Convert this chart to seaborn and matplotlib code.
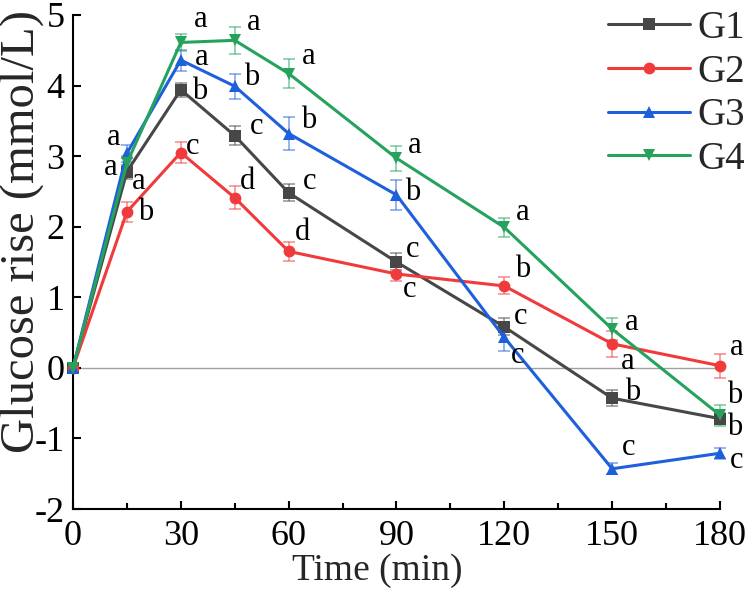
import numpy as np
import pandas as pd
import seaborn as sns
import matplotlib
matplotlib.use("Agg")
import matplotlib.pyplot as plt
from matplotlib.ticker import MultipleLocator

# ---- data ----
time = [0, 15, 30, 45, 60, 90, 120, 150, 180]
groups = ["G1", "G2", "G3", "G4"]
g1 = [0, 2.78, 3.94, 3.29, 2.48, 1.50, 0.58, -0.43, -0.72]
g2 = [0, 2.21, 3.05, 2.41, 1.65, 1.33, 1.16, 0.34, 0.03]
g3 = [0, 3.04, 4.36, 3.99, 3.32, 2.45, 0.43, -1.43, -1.21]
g4 = [0, 2.90, 4.61, 4.64, 4.17, 2.97, 1.99, 0.55, -0.67]
g1_err = [0, 0.10, 0.10, 0.13, 0.12, 0.12, 0.12, 0.11, 0.08]
g2_err = [0, 0.14, 0.15, 0.16, 0.13, 0.10, 0.12, 0.18, 0.17]
g3_err = [0, 0.12, 0.15, 0.18, 0.23, 0.21, 0.19, 0.08, 0.08]
g4_err = [0, 0.10, 0.12, 0.19, 0.21, 0.18, 0.13, 0.15, 0.15]
g1_lab = ["", "a", "b", "c", "c", "c", "c", "b", "b"]
g2_lab = ["", "b", "c", "d", "d", "c", "b", "a", "a"]
g3_lab = ["", "a", "a", "b", "b", "b", "c", "c", "c"]
g4_lab = ["", "a", "a", "a", "a", "a", "a", "a", "b"]

# label offsets in pixels (dx, dy down-positive as in image)
g1_off = [(0, 0), (12, 10), (19, 2), (22, -9), (21, -11), (16, -12), (16, -10), (21, -6), (15, 9)]
g2_off = [(0, 0), (19, 1), (12, -6), (13, -16), (14, -19), (13, 16), (18, -16), (16, 18), (17, -18)]
g3_off = [(0, 0), (-13, -16), (21, -3), (17, -9), (20, -13), (16, -2), (13, 18), (16, -21), (17, 7)]
g4_off = [(0, 0), (-16, 4), (20, -23), (19, -18), (20, -17), (18, -13), (18, -15), (20, -7), (15, -20)]

values = [g1, g2, g3, g4]
errs = [g1_err, g2_err, g3_err, g4_err]
labs = [g1_lab, g2_lab, g3_lab, g4_lab]
offs = [g1_off, g2_off, g3_off, g4_off]

colors = {"G1": "#474747", "G2": "#f03a3c", "G3": "#1e60dc", "G4": "#25a35c"}
markers = {"G1": "s", "G2": "o", "G3": "^", "G4": "v"}

df = pd.DataFrame({
    "time": time * 4,
    "value": g1 + g2 + g3 + g4,
    "group": sum([[g] * len(time) for g in groups], []),
})

sns.set_style("ticks")
plt.rcParams["font.family"] = ["Liberation Serif", "DejaVu Serif"]
plt.rcParams["axes.unicode_minus"] = False

fig = plt.figure(figsize=(7.5, 5.97), dpi=100)
ax = fig.add_axes([0.0973, 0.1474, 0.8627, 0.8276])

ax.axhline(0, color="#a0a0a0", lw=1.0, zorder=0)

for g, v, e in zip(groups, values, errs):
    ax.errorbar(time, v, yerr=e, fmt="none", ecolor=colors[g], alpha=0.55,
                elinewidth=1.2, capsize=4, capthick=1.2, zorder=2, clip_on=False)

sns.lineplot(data=df, x="time", y="value", hue="group", style="group",
             palette=colors, markers=markers, dashes=False, markersize=8.5,
             markeredgewidth=0, linewidth=2.2, ax=ax, zorder=3, clip_on=False)

for g, v, lb, of in zip(groups, values, labs, offs):
    for t, y, s, (dx, dy) in zip(time, v, lb, of):
        if s:
            ax.annotate(s, (t, y), xytext=(dx, -dy), textcoords="offset pixels",
                        ha="center", va="center", fontsize=22, color="black")

ax.set_xlim(0, 180)
ax.set_ylim(-2, 5)
ax.xaxis.set_major_locator(MultipleLocator(30))
ax.xaxis.set_minor_locator(MultipleLocator(15))
ax.yaxis.set_major_locator(MultipleLocator(1))
ax.tick_params(axis="both", which="major", direction="in", length=6, width=1.5,
               labelsize=26, color="black", labelcolor="black")
ax.tick_params(axis="y", which="major", pad=6)
ax.tick_params(axis="x", which="major", pad=8)
ax.tick_params(axis="x", which="minor", direction="in", length=4, width=1.5, color="black")
for sp in ["top", "right"]:
    ax.spines[sp].set_visible(False)
for sp in ["left", "bottom"]:
    ax.spines[sp].set_linewidth(1.5)
    ax.spines[sp].set_color("black")

ax.set_xlabel("Time (min)", fontsize=27)
ax.xaxis.set_label_coords(0.471, -0.125)
ax.xaxis.label.set_va("center")
ax.set_ylabel("Glucose rise (mmol/L)", fontsize=35)
ax.yaxis.set_label_coords(-0.079, 0.561)
ax.yaxis.label.set_va("center")

leg = ax.legend(loc="upper right", bbox_to_anchor=(1.039, 1.01), frameon=False,
                fontsize=28, handlelength=2.1, labelspacing=0.17, handletextpad=0.2,
                borderaxespad=0.0, borderpad=0.0)
for h in leg.legend_handles:
    h.set_linewidth(2.2)

fig.savefig("out.png", dpi=100)
